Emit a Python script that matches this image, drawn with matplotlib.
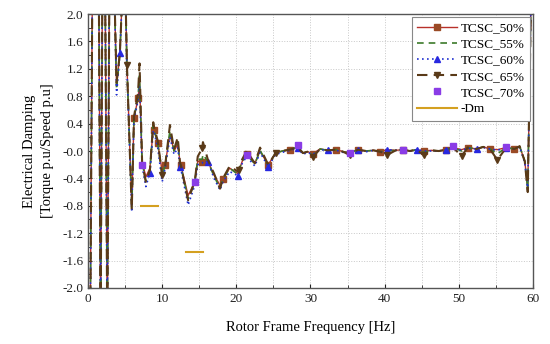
import numpy as np
import matplotlib
matplotlib.use("Agg")
import matplotlib.pyplot as plt
from matplotlib.ticker import MultipleLocator

plt.rcParams['font.family'] = ['Liberation Serif', 'DejaVu Serif']

# frequency points [Hz]
freq = [0.3, 0.6, 1.45, 1.7, 1.95, 2.3, 2.6, 2.9, 3.5, 3.85, 4.3, 4.75, 5.0, 5.25,
        5.9, 6.2, 6.75, 6.95, 7.3, 7.8, 8.35, 8.8, 8.9, 9.4, 10.0, 10.4, 11.05, 11.6,
        12.1, 12.4, 12.5, 13.5, 14.4, 14.8, 15.4, 15.5, 16.2, 17.0, 17.8, 18.2, 19.1,
        20.2, 20.3, 20.8, 21.4, 22.5, 23.2, 24.3, 25.3, 26.2, 27.2, 28.3, 29.0, 29.6,
        30.3, 31.3, 32.3, 33.5, 34.4, 35.3, 36.4, 37.5, 38.5, 39.4, 40.3, 41.5, 42.5,
        43.4, 44.3, 45.3, 46.3, 47.3, 48.3, 49.2, 50.4, 51.2, 52.4, 53.3, 54.2, 55.2,
        56.4, 57.5, 58.2, 58.9, 59.3, 59.8]

tcsc50 = [-2.6, 2.6, 2.6, -2.6, 2.6, 2.6, -2.6, 2.6, 2.6, 0.95, 1.43, 2.6, 2.6, 1.26,
          -0.80, 0.48, 0.77, 1.00, -0.15, -0.38, -0.25, 0.35, 0.31, 0.12, -0.30, -0.20, 0.25, 0.00,
          0.10, -0.15, -0.20, -0.65, -0.45, -0.15, -0.16, -0.12, -0.16, -0.35, -0.50, -0.41, -0.25,
          -0.33, -0.30, -0.15, -0.05, -0.18, 0.00, -0.20, -0.03, 0.00, 0.02, 0.05, -0.03, -0.01,
          -0.04, 0.03, 0.01, 0.02, -0.01, -0.02, 0.02, 0.00, 0.01, -0.01, 0.02, 0.01, 0.02,
          0.00, 0.02, 0.00, 0.01, 0.00, 0.02, 0.05, 0.02, 0.05, 0.03, 0.06, 0.03, 0.02,
          0.05, 0.03, 0.07, -0.15, -0.55, 2.6]

tcsc55 = [-2.6, 2.6, 2.6, -2.6, 2.6, 2.6, -2.6, 2.6, 2.6, 0.90, 1.43, 2.6, 2.6, 1.26,
          -0.84, 0.48, 0.80, 1.10, -0.17, -0.44, -0.28, 0.38, 0.31, 0.12, -0.36, -0.21, 0.30, 0.00,
          0.14, -0.18, -0.21, -0.70, -0.45, -0.12, -0.12, -0.05, -0.16, -0.37, -0.54, -0.41, -0.25,
          -0.34, -0.29, -0.15, -0.05, -0.19, 0.01, -0.21, -0.03, 0.00, 0.02, 0.06, -0.03, -0.01,
          -0.06, 0.03, 0.01, 0.02, -0.01, -0.03, 0.02, 0.00, 0.01, -0.01, 0.00, 0.01, 0.02,
          0.00, 0.02, -0.02, 0.01, 0.00, 0.02, 0.05, 0.00, 0.05, 0.03, 0.06, 0.03, -0.04,
          0.05, 0.03, 0.07, -0.15, -0.56, 2.6]

tcsc60 = [-2.6, 2.6, 2.6, -2.6, 2.6, 2.6, -2.6, 2.6, 2.6, 0.82, 1.43, 2.6, 2.6, 1.20,
          -0.89, 0.45, 0.74, 0.95, -0.22, -0.52, -0.32, 0.30, 0.28, 0.05, -0.45, -0.25, 0.20, -0.05,
          0.05, -0.23, -0.25, -0.79, -0.50, -0.20, -0.18, -0.15, -0.16, -0.40, -0.57, -0.45, -0.30,
          -0.36, -0.33, -0.18, -0.08, -0.22, -0.02, -0.23, -0.05, -0.02, 0.01, 0.04, -0.05, -0.02,
          -0.05, 0.02, 0.01, 0.01, -0.02, -0.02, 0.02, -0.01, 0.01, -0.02, 0.02, 0.01, 0.02,
          0.00, 0.02, 0.00, 0.00, 0.00, 0.02, 0.04, 0.01, 0.04, 0.03, 0.05, 0.03, 0.01,
          0.05, 0.03, 0.06, -0.17, -0.57, 2.6]

tcsc65 = [-2.6, 2.6, 2.6, -2.6, 2.6, 2.6, -2.6, 2.6, 2.6, 1.00, 1.43, 2.6, 2.6, 1.26,
          -0.86, 0.50, 0.85, 1.28, -0.18, -0.45, -0.28, 0.42, 0.35, 0.15, -0.35, -0.22, 0.38, 0.02,
          0.20, -0.17, -0.20, -0.72, -0.44, -0.08, 0.04, 0.13, -0.14, -0.33, -0.55, -0.40, -0.22,
          -0.30, -0.28, -0.12, 0.00, -0.18, 0.05, -0.20, -0.03, 0.00, 0.02, 0.05, -0.03, -0.01,
          -0.09, 0.03, 0.01, 0.02, -0.01, -0.06, 0.02, 0.00, 0.01, -0.01, -0.06, 0.01, 0.02,
          0.00, 0.02, -0.06, 0.01, 0.00, 0.02, 0.05, -0.07, 0.05, 0.03, 0.06, 0.03, -0.13,
          0.05, 0.03, 0.07, -0.15, -0.60, 2.6]

freq70 = [7.3, 14.4, 21.4, 28.3, 35.3, 42.5, 49.2, 56.4]
tcsc70 = [-0.20, -0.45, -0.06, 0.09, -0.03, 0.02, 0.07, 0.06]

dm_freq = [7.2, 9.5, np.nan, 13.2, 15.5]
dm_val = [-0.80, -0.80, np.nan, -1.47, -1.47]

# marker placement (style)
marks50 = [6.2, 6.75, 8.9, 9.4, 10.4, 12.5, 15.4, 18.2, 21.4, 24.3, 27.2, 30.3, 33.5,
           36.4, 39.4, 42.5, 45.3, 48.3, 51.2, 54.2, 57.5]
marks60 = [4.3, 8.35, 12.4, 16.2, 20.2, 24.3, 28.3, 32.3, 36.4, 40.3, 44.3, 48.3, 52.4, 56.4]
marks65 = [5.25, 10.0, 15.4, 20.3, 25.3, 30.3, 35.3, 40.3, 45.3, 50.4, 55.2]

f = np.array(freq)
def idx(marks):
    return [int(np.argmin(np.abs(f - m))) for m in marks]

fig = plt.figure(figsize=(5.5, 3.44), dpi=100)
ax = fig.add_axes([0.16, 0.163, 0.809, 0.796])

ax.plot(freq, tcsc50, color='#B8312A', lw=1.0, ls='-', marker='s', ms=4.5,
        mfc='#9A4A25', mec='#9A4A25', markevery=idx(marks50), label='TCSC_50%')
ax.plot(freq, tcsc55, color='#3C7A2A', lw=1.2, ls=(0, (4, 3)), label='TCSC_55%')
ax.plot(freq, tcsc60, color='#2030D0', lw=1.2, ls=(0, (1, 2)), marker='^', ms=5,
        mfc='#2828E0', mec='#2828E0', markevery=idx(marks60), label='TCSC_60%')
ax.plot(freq, tcsc65, color='#5A3A18', lw=1.5, ls=(0, (5, 3)), marker='v', ms=5,
        mfc='#5A3A18', mec='#5A3A18', markevery=idx(marks65), label='TCSC_65%')
ax.plot(freq70, tcsc70, ls='none', marker='s', ms=5, mfc='#8A3CE6', mec='#8A3CE6',
        label='TCSC_70%')
ax.plot(dm_freq, dm_val, color='#D4A020', lw=1.5, label='-Dm')

ax.set_xlim(0, 60)
ax.set_ylim(-2.0, 2.0)
ax.xaxis.set_major_locator(MultipleLocator(10))
ax.xaxis.set_minor_locator(MultipleLocator(5))
ax.yaxis.set_major_locator(MultipleLocator(0.4))
ax.yaxis.set_minor_locator(MultipleLocator(0.2))
ax.set_yticks(np.arange(-2.0, 2.01, 0.4))
ax.set_yticklabels([f"{v:.1f}" for v in np.arange(-2.0, 2.01, 0.4)])
ax.tick_params(which='both', direction='in', labelsize=9.5, colors='#222222')
ax.tick_params(which='major', length=3)
ax.tick_params(which='minor', length=2)
ax.grid(True, which='major', axis='y', color='#C8C8C8', ls=':', lw=0.7)
ax.grid(True, which='both', axis='x', color='#C8C8C8', ls=':', lw=0.7)
for s in ax.spines.values():
    s.set_color('#555555')
    s.set_linewidth(1.0)

ax.set_xlabel('Rotor Frame Frequency [Hz]', fontsize=10.5, labelpad=12)
ax.set_ylabel('Electrical Damping\n[Torque p.u/Speed p.u]', fontsize=10.5, labelpad=6,
              linespacing=1.5)

leg = ax.legend(loc='upper right', fontsize=9.5, frameon=True, fancybox=False,
                edgecolor='#888888', framealpha=1, borderpad=0.4, labelspacing=0.3,
                handlelength=3.0, handletextpad=0.3, borderaxespad=0.2)
leg.get_frame().set_linewidth(0.8)

fig.savefig('out.png', dpi=100)
